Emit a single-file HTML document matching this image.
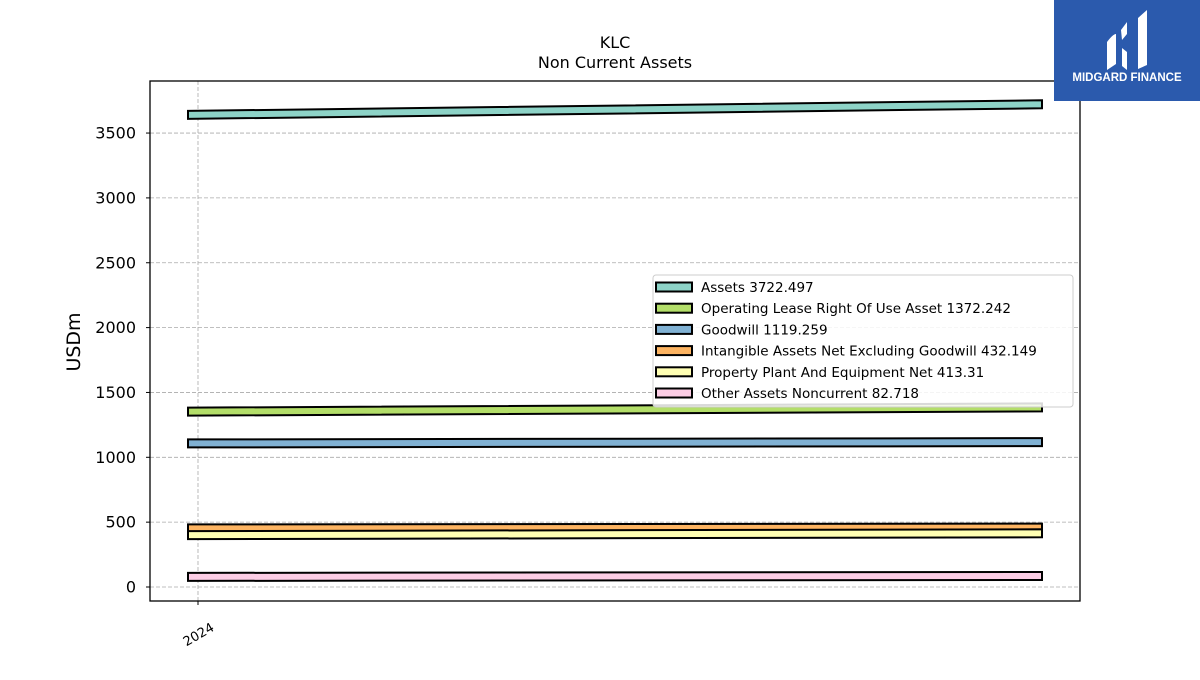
<!DOCTYPE html>
<html><head><meta charset="utf-8"><style>
body{margin:0;background:#fff;font-family:"Liberation Sans","DejaVu Sans",sans-serif}
svg text{font-family:"DejaVu Sans","Liberation Sans",sans-serif}
</style></head><body>
<svg id="c" width="1200" height="675" xmlns="http://www.w3.org/2000/svg">
<rect width="1200" height="675" fill="#fff"/>
<text x="615" y="48" font-size="16" text-anchor="middle">KLC</text>
<text x="615" y="68" font-size="16" text-anchor="middle">Non Current  Assets</text>
<g id="grid"></g>
<g id="bands"></g>
<rect x="150" y="81" width="930" height="520" fill="none" stroke="#000" stroke-width="1.3"/>
<g id="yt"></g>
<text transform="translate(80,342) rotate(-90)" font-size="19" text-anchor="middle">USDm</text>
<g id="xt"></g>
<g id="legend">
<rect x="653" y="275" width="420" height="132" rx="3" fill="#fff" fill-opacity="0.85" stroke="#ccc"/>
</g>
<g>
<rect x="1054" y="0" width="146" height="101" fill="#2b5aad"/>
<path d="M1107 42 q6-8 9-8 v30 l-9 6z M1121 30 l6-8 v12 l-5 6z M1122 48 l5 4 v18 l-5 -4z M1138 18 l9-8 v55 l-9 4z" fill="#fff"/>
<text x="1127" y="81" font-size="11.5" font-weight="bold" fill="#fff" text-anchor="middle" style="font-family:'Liberation Sans',sans-serif">MIDGARD FINANCE</text>
</g>
</svg>
<script>
const series=["Assets  3722.497","Operating Lease Right Of Use Asset  1372.242","Goodwill  1119.259","Intangible Assets Net Excluding Goodwill  432.149","Property Plant And Equipment Net  413.31","Other Assets Noncurrent  82.718"];
const colors=["#8dd3c7","#b3de69","#80b1d3","#fdb462","#ffffb3","#fccde5"];
const startVals=[3640,1352,1107,452,400,78];
const endVals=[3722,1385,1117,458,414,85];
const years=[2024,2025];
const yTicks=[0,500,1000,1500,2000,2500,3000,3500];
const NS="http://www.w3.org/2000/svg";
const ys=v=>587-v*0.1297;
const xs=yr=>198+(yr-2024)*834;
function mk(t,a,p){const e=document.createElementNS(NS,t);for(const k in a)e.setAttribute(k,a[k]);p.appendChild(e);return e;}
const grid=document.getElementById('grid'),yt=document.getElementById('yt'),xt=document.getElementById('xt'),bands=document.getElementById('bands'),lg=document.getElementById('legend');
yTicks.forEach(v=>{
 const l=mk('line',{x1:150,x2:1080,y1:ys(v),y2:ys(v),stroke:'#aaa','stroke-dasharray':'4,2','stroke-width':0.8},grid);
 
 
 mk('line',{x1:146,x2:150,y1:ys(v),y2:ys(v),stroke:'#000'},yt);
 const t=mk('text',{x:136,y:ys(v)+5.5,'font-size':16,'text-anchor':'end'},yt);
 t.textContent=v;
 
 
});
const gl=mk('line',{x1:xs(2024),x2:xs(2024),y1:81,y2:601,stroke:'#aaa','stroke-dasharray':'4,2','stroke-width':0.8},grid);


mk('line',{x1:xs(2024),x2:xs(2024),y1:601,y2:605,stroke:'#000'},xt);
const xl=mk('text',{transform:`translate(${xs(2024)+17},${630}) rotate(-30)`,'font-size':13,'text-anchor':'end'},xt);
xl.textContent='2024';


series.forEach((s,i)=>{
 const x0=xs(years[0])-10,x1=xs(years[1])+10,y0=ys(startVals[i]),y1=ys(endVals[i]),h=4;
 const p=mk('polygon',{points:`${x0},${y0-h} ${x1},${y1-h} ${x1},${y1+h} ${x0},${y0+h}`,fill:colors[i],stroke:'#000','stroke-width':2},bands);
 
 
 const ly=287+i*21.2;
 const r=mk('rect',{x:656,y:ly-4.5,width:36,height:9,fill:colors[i],stroke:'#000','stroke-width':2},lg);
 
 
 const t=mk('text',{x:701,y:ly+5,'font-size':13.5},lg);
 t.textContent=s;
 
 
});
</script>
</body></html>
